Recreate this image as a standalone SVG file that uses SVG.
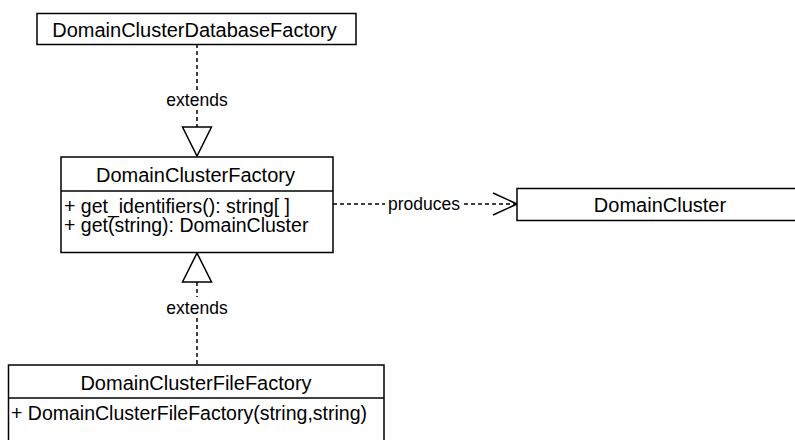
<svg xmlns="http://www.w3.org/2000/svg" width="795" height="440" viewBox="0 0 795 440">
  <style>
    .box { fill: #ffffff; stroke: #000000; stroke-width: 1.5; }
    .div { stroke: #000000; stroke-width: 1.5; }
    .title { font-family: "Liberation Sans", Arial, sans-serif; font-size: 20px; fill: #000000; text-anchor: middle; }
    .member { font-family: "Liberation Sans", Arial, sans-serif; font-size: 19.5px; fill: #000000; }
    .label { font-family: "Liberation Sans", Arial, sans-serif; font-size: 17.5px; fill: #000000; text-anchor: middle; }
    .dash { fill: none; stroke: #000000; stroke-width: 1.5; stroke-dasharray: 4 3; }
    .head { fill: #ffffff; stroke: #000000; stroke-width: 1.5; }
    .open { fill: none; stroke: #000000; stroke-width: 1.5; }
  </style>
  <rect width="795" height="440" fill="#ffffff"/>

  <g id="connectors">
    <!-- DomainClusterDatabaseFactory extends DomainClusterFactory -->
    <g id="edge-extends-top">
      <line class="dash" x1="197" y1="44" x2="197" y2="92"/>
      <line class="dash" x1="197" y1="110" x2="197" y2="127"/>
      <text class="label" x="197" y="106">extends</text>
      <polygon class="head" points="182.5,127 211.5,127 197,156"/>
    </g>
    <!-- DomainClusterFileFactory extends DomainClusterFactory -->
    <g id="edge-extends-bottom">
      <polygon class="head" points="197,253 182.5,282 211.5,282"/>
      <line class="dash" x1="197" y1="282" x2="197" y2="297"/>
      <line class="dash" x1="197" y1="318" x2="197" y2="365"/>
      <text class="label" x="197" y="314">extends</text>
    </g>
    <!-- DomainClusterFactory produces DomainCluster -->
    <g id="edge-produces">
      <line class="dash" x1="333" y1="204" x2="385" y2="204"/>
      <line class="dash" x1="464" y1="204" x2="516" y2="204"/>
      <text class="label" x="424" y="210">produces</text>
      <polyline class="open" points="493,193 517,204 493,215"/>
    </g>
  </g>

  <g id="DomainClusterDatabaseFactory">
    <rect class="box" x="37" y="13.5" width="319" height="31"/>
    <text class="title" x="194.5" y="37">DomainClusterDatabaseFactory</text>
  </g>

  <g id="DomainClusterFactory">
    <rect class="box" x="61" y="157" width="272" height="95.5"/>
    <line class="div" x1="61" y1="191" x2="333" y2="191"/>
    <text class="title" x="195.5" y="182">DomainClusterFactory</text>
    <text class="member" x="64" y="213" font-size="19" textLength="226" lengthAdjust="spacing">+ get_identifiers(): string[ ]</text>
    <text class="member" x="64" y="232">+ get(string): DomainCluster</text>
  </g>

  <g id="DomainCluster">
    <rect class="box" x="517" y="188.5" width="286" height="32"/>
    <text class="title" x="660" y="212">DomainCluster</text>
  </g>

  <g id="DomainClusterFileFactory">
    <rect class="box" x="8.5" y="365" width="375.5" height="90"/>
    <line class="div" x1="8.5" y1="398" x2="384" y2="398"/>
    <text class="title" x="196" y="390">DomainClusterFileFactory</text>
    <text class="member" x="11" y="420">+ DomainClusterFileFactory(string,string)</text>
  </g>
</svg>
